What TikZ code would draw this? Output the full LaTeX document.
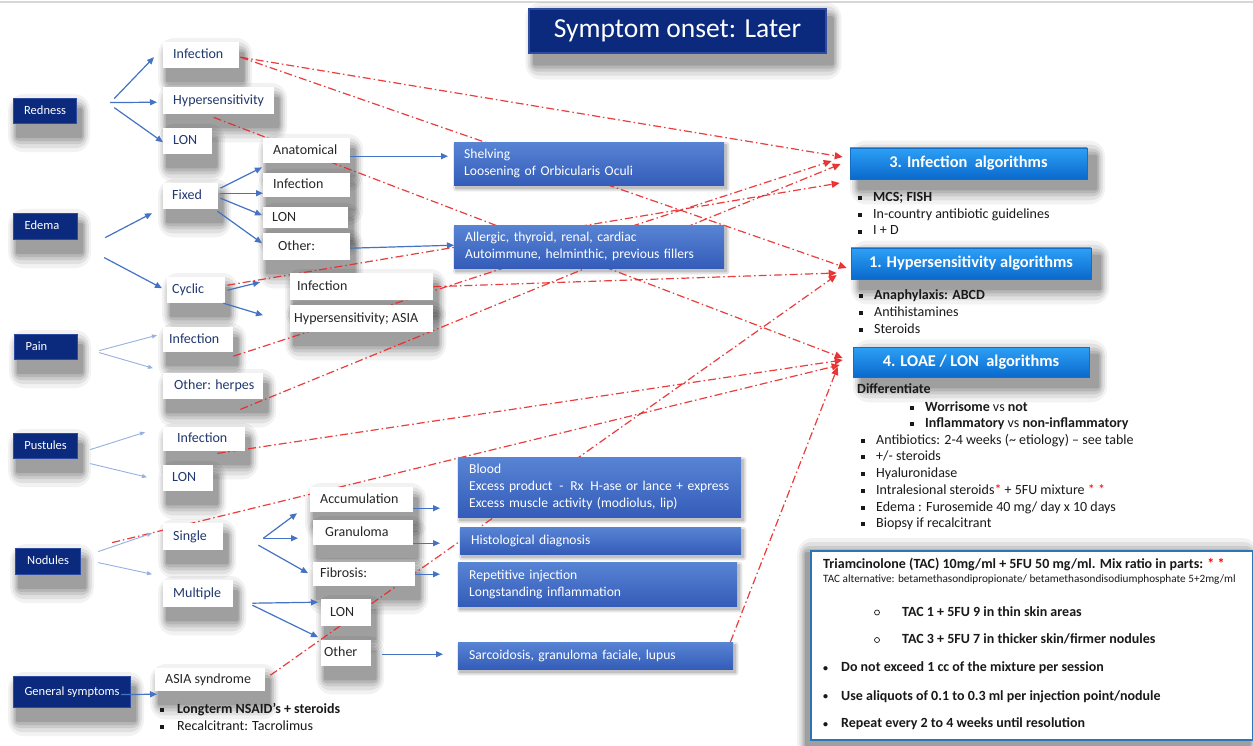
\documentclass[tikz,border=0pt]{standalone}
\usepackage{fontspec}
\setmainfont{Carlito}
\usetikzlibrary{arrows.meta}
\pgfdeclarelayer{back}
\pgfdeclarelayer{bg}
\pgfsetlayers{back,bg,main}
\definecolor{navy}{RGB}{11,42,126}
\definecolor{navyedge}{RGB}{45,75,160}
\definecolor{lblblue}{RGB}{32,56,112}
\definecolor{lblblack}{RGB}{38,38,38}
\definecolor{boxtop}{RGB}{88,132,212}
\definecolor{boxbot}{RGB}{52,92,185}
\definecolor{algtop}{RGB}{45,160,245}
\definecolor{algbot}{RGB}{10,105,205}
\definecolor{algedge}{RGB}{20,110,200}
\definecolor{arrblue}{RGB}{68,114,196}
\definecolor{arrlight}{RGB}{150,176,226}
\definecolor{redline}{RGB}{232,40,40}
\definecolor{tacedge}{RGB}{46,117,182}
\definecolor{txtdark}{RGB}{25,25,25}
\definecolor{topline}{RGB}{215,215,215}
\newcommand{\tb}[2]{\makebox[#1pt][l]{#2}}
\newcommand{\tbc}[2]{\makebox[#1pt][c]{#2}}
\newcommand{\myfs}[2]{\fontsize{#1pt}{#2pt}\selectfont}
\newcommand{\sqbul}{\makebox[15pt][l]{\rule[1.5pt]{4pt}{4pt}}}
\newcommand{\rdot}{\makebox[18pt][l]{\raisebox{0.5pt}{\myfs{10}{12}\textbullet}}}
% soft shadow: node, dx, dy (y downward)
\newcommand{\softshadow}[3]{%
 \foreach \e/\o in {16/0.05, 12/0.07, 8/0.09, 5/0.10, 2/0.12} {%
  \pgfmathsetmacro{\ex}{0.55*\e}%
  \fill[black, opacity=\o, rounded corners=\e pt] ([shift={(#2-\ex,#3-\e)}]#1.north west) rectangle ([shift={(#2+\ex,#3+\e)}]#1.south east);
 }}
\newcommand{\smallshadow}[1]{%
 \foreach \e/\o in {3/0.1, 1/0.15} {%
  \fill[black, opacity=\o, rounded corners=\e pt] ([shift={(2-\e,3-\e)}]#1.north west) rectangle ([shift={(2+\e,3+\e)}]#1.south east);
 }}
\tikzset{
 lbl/.style={fill=white, anchor=north west, inner ysep=0pt, text height=10.5pt, text depth=3pt, font=\myfs{14}{16}},
 lb/.style={lbl, text=lblblue},
 lk/.style={lbl, text=lblblack},
 cat/.style={fill=navy, draw=navyedge, line width=1.2pt, text=white, anchor=north west, inner ysep=0pt, text height=9.5pt, text depth=3pt, font=\myfs{12.5}{15}},
 bbox/.style={top color=boxtop, bottom color=boxbot, text=white, anchor=north west, align=left, font=\myfs{13.6}{17}},
 alg/.style={top color=algtop, bottom color=algbot, draw=algedge, line width=0.6pt, text=white, font=\myfs{16.4}{19}\bfseries},
 txt/.style={anchor=base west, inner sep=0pt, text=txtdark, font=\myfs{14}{16}},
 txtb/.style={txt, font=\myfs{14}{16}\bfseries},
 cbul/.style={circle, draw=txtdark, line width=0.7pt, inner sep=0pt, minimum size=5pt},
 barrow/.style={draw=arrblue, line width=1.2pt, -{Triangle[length=7pt,width=6pt]}},
 larrow/.style={draw=arrlight, line width=0.9pt, -{Triangle[length=5pt,width=4pt]}},
 rarrow/.style={draw=redline, line width=1.2pt, dash pattern=on 8pt off 3pt on 1.5pt off 3pt, -{Triangle[length=8pt,width=7pt]}, opacity=0.9}
}
\begin{document}
\begin{tikzpicture}[x=1pt,y=-1pt]
\useasboundingbox (0,0) rectangle (1253,746);
\begin{pgfonlayer}{back}
\fill[white] (0,0) rectangle (1253,746);
\draw[topline, line width=2pt] (0,2) -- (1253,2);
\end{pgfonlayer}

% title
\node[fill=navy, draw=navyedge, line width=1.5pt, text=white, minimum width=297pt, minimum height=44pt, font=\myfs{27.5}{31}] (title) at (677.5,31) {Symptom onset: Later};

% category boxes
\node[cat, inner xsep=4pt, minimum height=25pt] (Redness) at (13,98) {\tbc{55}{Redness}};
\node[cat, inner xsep=11pt, minimum height=26pt] (Edema) at (13,213) {\tb{42}{Edema}};
\node[cat, inner xsep=11pt, minimum height=25pt] (Pain) at (14,334) {\tb{41}{Pain}};
\node[cat, inner xsep=4pt, minimum height=25pt] (Pust) at (13,433) {\tbc{56}{Pustules}};
\node[cat, inner xsep=4pt, minimum height=26pt] (Nod) at (15,548) {\tbc{57}{Nodules}};
\node[cat, inner xsep=4pt, minimum height=31pt] (GS) at (13,676) {\tbc{109}{General symptoms}};

% white label boxes
\node[lb, inner xsep=10pt, minimum height=26pt] (rInf) at (163,42) {\tb{56}{Infection}};
\node[lb, inner xsep=10pt, minimum height=27pt] (rHyp) at (163,87) {\tb{91}{Hypersensitivity}};
\node[lb, inner xsep=10pt, minimum height=26pt] (rLON) at (163,128) {\tb{29}{LON}};
\node[lk, inner xsep=10pt, minimum height=25pt] (fAna) at (263,138) {\tb{67}{Anatomical}};
\node[lb, inner xsep=9pt, minimum height=26pt] (eFix) at (163,183) {\tb{37}{Fixed}};
\node[lk, inner xsep=10pt, minimum height=24pt] (fInf) at (263,173) {\tb{67}{Infection}};
\node[lk, inner xsep=9pt, minimum height=21pt] (fLON) at (263,207) {\tb{67}{LON}};
\node[lk, inner xsep=15pt, minimum height=27pt] (fOth) at (263,233) {\tb{57}{Other:}};
\node[lk, inner xsep=7pt, minimum height=27pt] (cInf) at (290,273) {\tb{129}{Infection}};
\node[lb, inner xsep=5pt, minimum height=26pt] (eCyc) at (167,277) {\tb{48}{Cyclic}};
\node[lk, inner xsep=4pt, minimum height=27pt] (cHyp) at (290,305) {\tb{135}{Hypersensitivity; ASIA}};
\node[lb, inner xsep=6pt, minimum height=25pt] (pInf) at (163,327) {\tb{58}{Infection}};
\node[lb, inner xsep=11pt, minimum height=26pt] (pOth) at (163,373) {\tb{78}{Other: herpes}};
\node[lb, inner xsep=14pt, minimum height=24pt] (uInf) at (163,427) {\tb{54}{Infection}};
\node[lb, inner xsep=9pt, minimum height=26pt] (uLON) at (163,465) {\tb{32}{LON}};
\node[lk, inner xsep=10pt, minimum height=25pt] (sAcc) at (310,487) {\tb{83}{Accumulation}};
\node[lb, inner xsep=10pt, minimum height=27pt] (nSin) at (163,523) {\tb{40}{Single}};
\node[lk, inner xsep=12pt, minimum height=25pt] (sGra) at (313,520) {\tb{76}{Granuloma}};
\node[lk, inner xsep=7pt, minimum height=24pt] (sFib) at (313,562) {\tb{88}{Fibrosis:}};
\node[lb, inner xsep=10pt, minimum height=27pt] (nMul) at (163,580) {\tb{50}{Multiple}};
\node[lk, inner xsep=9pt, minimum height=27pt] (mLON) at (321,599) {\tb{32}{LON}};
\node[lk, inner xsep=3pt, minimum height=26pt] (mOth) at (321,640) {\tb{44}{Other}};
\node[lk, inner xsep=10pt, minimum height=23pt] (gAsia) at (155,668) {\tb{90}{ASIA syndrome}};

% blue boxes
\node[bbox, inner xsep=10pt, text width=250pt, minimum height=43pt] (Shel) at (454,142) {Shelving\\Loosening of Orbicularis Oculi};
\node[bbox, inner xsep=11pt, text width=248pt, minimum height=43pt] (Alle) at (454,225) {Allergic, thyroid, renal, cardiac\\Autoimmune, helminthic, previous fillers};
\node[bbox, inner xsep=11pt, text width=261pt, minimum height=60pt] (Blood) at (458,457) {Blood\\\mbox{Excess product\ \,-\ \,Rx\ \,H-ase or lance + express}\\Excess muscle activity (modiolus, lip)};
\node[bbox, inner xsep=11pt, text width=259pt, minimum height=27pt] (Hist) at (460,527) {Histological diagnosis};
\node[bbox, inner xsep=11pt, text width=257pt, minimum height=44pt] (Rep) at (458,562) {Repetitive injection\\Longstanding inflammation};
\node[bbox, inner xsep=11pt, text width=253pt, minimum height=27pt] (Sarc) at (458,642) {Sarcoidosis, granuloma faciale, lupus};

% algorithm boxes
\node[alg, minimum width=237pt, minimum height=31pt] (A3) at (968.5,163.5) {3. Infection\ \ algorithms};
\node[alg, minimum width=240pt, minimum height=31pt] (A1) at (971,263.5) {1. Hypersensitivity algorithms};
\node[alg, minimum width=236pt, minimum height=30pt] (A4) at (971,362) {4. LOAE / LON\ \ algorithms};

% lists
\node[txt] (l3a) at (858,201.5) {\sqbul\textbf{MCS; FISH}};
\node[txt] (l3b) at (858,218.5) {\sqbul In-country antibiotic guidelines};
\node[txt] (l3c) at (858,235) {\sqbul I + D};
\node[txt] (l1a) at (859,299) {\sqbul\textbf{Anaphylaxis: ABCD}};
\node[txt] (l1b) at (859,316.5) {\sqbul Antihistamines};
\node[txt] (l1c) at (859,333) {\sqbul Steroids};
\node[txt] (l4a) at (857,393.5) {\textbf{Differentiate}};
\node[txt] (l4b) at (910,411) {\sqbul\textbf{Worrisome} vs \textbf{not}};
\node[txt] (l4c) at (910,427.5) {\sqbul\textbf{Inflammatory} vs \textbf{non-inflammatory}};
\node[txt] (l4d) at (861,444) {\sqbul Antibiotics: 2-4 weeks (\textasciitilde\ etiology) – see table};
\node[txt] (l4e) at (861,460.5) {\sqbul +/- steroids};
\node[txt] (l4f) at (861,477.5) {\sqbul Hyaluronidase};
\node[txt] (l4g) at (861,494) {\sqbul Intralesional steroids{\color{red}*} + 5FU mixture {\color{red}* *}};
\node[txt] (l4h) at (861,511) {\sqbul Edema : Furosemide 40 mg/ day x 10 days};
\node[txt] (l4i) at (861,527.5) {\sqbul Biopsy if recalcitrant};
\node[txt] (g1) at (160,713) {\makebox[17pt][l]{\rule[1.5pt]{4pt}{4pt}}\textbf{Longterm NSAID’s + steroids}};
\node[txt] (g2) at (160,730.5) {\makebox[17pt][l]{\rule[1.5pt]{4pt}{4pt}}Recalcitrant: Tacrolimus};

% TAC box
\node[draw=tacedge, line width=1.5pt, fill=white, anchor=north west, minimum width=442pt, minimum height=189pt, inner sep=0pt] (tac) at (810,550) {};
\node[txtb] (t1) at (823,568) {Triamcinolone (TAC) 10mg/ml + 5FU 50 mg/ml. Mix ratio in parts: {\color{red}* *}};
\node[txt, font=\myfs{11.2}{13}] (t2) at (823,582) {TAC alternative: betamethasondipropionate/ betamethasondisodiumphosphate 5+2mg/ml};
\node[cbul] (c1) at (877,612.5) {};
\node[txtb] (t3) at (902,616) {TAC 1 + 5FU 9 in thin skin areas};
\node[cbul] (c2) at (877,640) {};
\node[txtb] (t4) at (902,643) {TAC 3 + 5FU 7 in thicker skin/firmer nodules};
\node[txtb] (t5) at (823,671.5) {\rdot Do not exceed 1 cc of the mixture per session};
\node[txtb] (t6) at (823,700) {\rdot Use aliquots of 0.1 to 0.3 ml per injection point/nodule};
\node[txtb] (t7) at (823,727.5) {\rdot Repeat every 2 to 4 weeks until resolution};

% blue arrows
\draw[barrow] ([shift={(37,-12.5)}]Redness.east) -- ([shift={(-9,2)}]rInf.west);
\draw[barrow] ([shift={(33,-8.5)}]Redness.east) -- ([shift={(-6,1.5)}]rHyp.west);
\draw[barrow] ([shift={(37,-3.5)}]Redness.east) -- ([shift={(0,1)}]rLON.west);
\draw[barrow] ([shift={(27,11)}]Edema.east) -- ([shift={(-11,17)}]eFix.west);
\draw[barrow] ([shift={(26,31)}]Edema.east) -- ([shift={(-5,-2)}]eCyc.west);
\draw[barrow] ([shift={(2,-8)}]eFix.east) -- ([shift={(-1,4)}]fAna.south west);
\draw[barrow] ([shift={(2,-3)}]eFix.east) -- ([shift={(0,8)}]fInf.west);
\draw[barrow] ([shift={(2,2)}]eFix.east) -- ([shift={(-1,-2.5)}]fLON.west);
\draw[barrow] ([shift={(-1,15)}]eFix.east) -- ([shift={(-1,-3.5)}]fOth.west);
\draw[barrow] ([shift={(0,5.5)}]fAna.east) -- ([shift={(-6,-7.5)}]Shel.west);
\draw[barrow] ([shift={(0,1.5)}]fOth.east) -- ([shift={(0,-1.5)}]Alle.west);
\draw[barrow] ([shift={(2,0)}]eCyc.east) -- ([shift={(-30,-4.5)}]cInf.west);
\draw[barrow] ([shift={(-2,13)}]eCyc.east) -- ([shift={(-27,-3.5)}]cHyp.west);
\draw[larrow] ([shift={(21,3.5)}]Pain.east) -- ([shift={(-6,-4.5)}]pInf.west);
\draw[larrow] ([shift={(21,5.5)}]Pain.east) -- ([shift={(-10,-18)}]pOth.west);
\draw[larrow] ([shift={(12,3.5)}]Pust.east) -- ([shift={(-18,-7)}]uInf.west);
\draw[larrow] ([shift={(12,17.5)}]Pust.east) -- ([shift={(-16,-1)}]uLON.west);
\draw[larrow] ([shift={(17,-10)}]Nod.east) -- ([shift={(-11,-3.5)}]nSin.west);
\draw[larrow] ([shift={(17,1)}]Nod.east) -- ([shift={(-11,-19.5)}]nMul.west);
\draw[barrow] ([shift={(40,1.5)}]nSin.east) -- ([shift={(-13,13.5)}]sAcc.west);
\draw[barrow] ([shift={(40,1.5)}]nSin.east) -- ([shift={(-15,5.5)}]sGra.west);
\draw[barrow] ([shift={(35,8.5)}]nSin.east) -- ([shift={(-5,-1)}]sFib.west);
\draw[barrow] ([shift={(19,9.5)}]nMul.east) -- ([shift={(-3,-10.5)}]mLON.west);
\draw[barrow] ([shift={(19,11.5)}]nMul.east) -- ([shift={(-3,-16)}]mOth.west);
\draw[barrow] ([shift={(0,8.5)}]sAcc.east) -- ([shift={(-18,21)}]Blood.west);
\draw[barrow] ([shift={(0,10.5)}]sGra.east) -- ([shift={(-20,2.5)}]Hist.west);
\draw[barrow] (sFib.east) -- ([shift={(-18,-10)}]Rep.west);
\draw[barrow] ([shift={(11,1)}]mOth.east) -- ([shift={(-15,-1.5)}]Sarc.west);
\draw[barrow] ([shift={(-10,2.5)}]GS.east) -- ([shift={(2,14.5)}]gAsia.west);

% shadows and red dash-dot arrows, behind boxes
\begin{pgfonlayer}{bg}
\foreach \n in {Redness,Edema,Pain,Pust,Nod,GS,rInf,rHyp,rLON,fAna,eFix,fInf,fLON,fOth,cInf,eCyc,cHyp,pInf,pOth,uInf,uLON,sAcc,nSin,sGra,sFib,nMul,mLON,mOth,gAsia} {\softshadow{\n}{4}{12}}
\softshadow{title}{6}{10}
\softshadow{A3}{9}{9}
\softshadow{A1}{9}{9}
\softshadow{A4}{9}{9}
\softshadow{tac}{-4}{4}
\foreach \n in {Shel,Alle,Blood,Hist,Rep,Sarc} {\smallshadow{\n}}
\draw[rarrow] ([shift={(1,2)}]rInf.east) -- ([shift={(-7,-6.5)}]A3.west);
\draw[rarrow] ([shift={(1,2)}]rInf.east) -- ([shift={(-4,4.5)}]A1.west);
\draw[rarrow] ([shift={(-5,3)}]rHyp.south) -- ([shift={(-10,-4)}]A4.west);
\draw[rarrow] ([shift={(2,-5)}]eCyc.east) -- ([shift={(-10,19.5)}]A3.west);
\draw[rarrow] (cInf.east) -- ([shift={(-14,9.5)}]A1.west);
\draw[rarrow] ([shift={(0,16.5)}]pInf.east) -- ([shift={(-18,-2.5)}]A3.west);
\draw[rarrow] ([shift={(-23,10)}]pOth.south east) -- ([shift={(-9,0.5)}]A3.west);
\draw[rarrow] ([shift={(-28,2)}]uInf.south east) -- ([shift={(-10,-2)}]A4.west);
\draw[rarrow] ([shift={(31,-19)}]Nod.east) -- ([shift={(-13,3)}]A4.west);
\draw[rarrow] ([shift={(5,-4.5)}]gAsia.east) -- ([shift={(-14,11.5)}]A1.west);
\draw[rarrow] ([shift={(-3,0)}]Sarc.north east) -- ([shift={(-15,5)}]A4.west);
\end{pgfonlayer}
\end{tikzpicture}
\end{document}
